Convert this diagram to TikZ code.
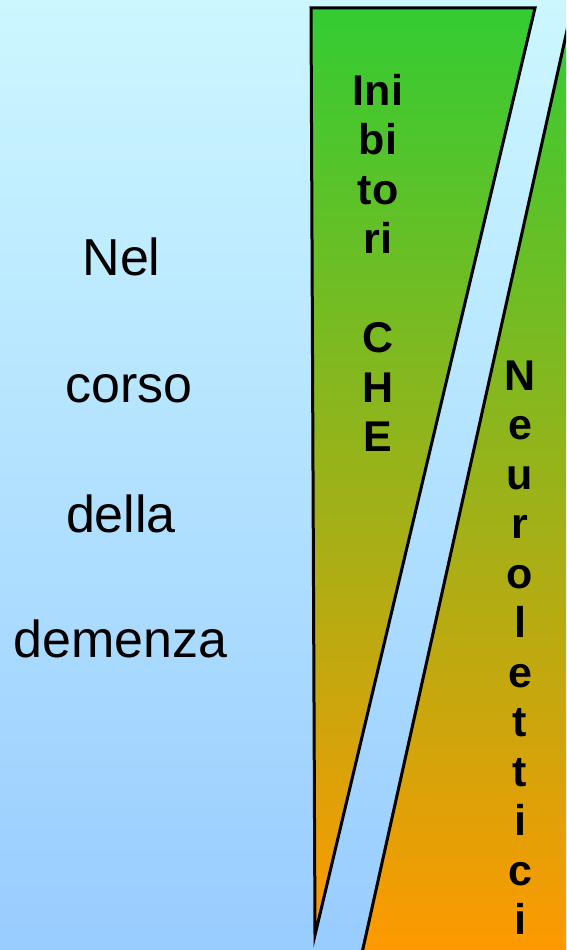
\documentclass[tikz,border=0pt]{standalone}
\usepackage{fontspec}
\setmainfont{Liberation Sans}
\definecolor{skyTop}{RGB}{204,247,255}
\definecolor{skyBottom}{RGB}{153,204,255}
\definecolor{drugGreen}{RGB}{51,204,51}
\definecolor{drugOlive}{RGB}{186,178,38}
\definecolor{drugOrange}{RGB}{255,153,0}

\begin{document}
\begin{tikzpicture}[x=1pt, y=-1pt,
    wedge/.style={draw=black, line width=3pt, top color=drugGreen, middle color=drugOlive, bottom color=drugOrange},
    plain/.style={anchor=base, font=\fontsize{52}{52}\selectfont},
    letter/.style={anchor=base, font=\bfseries\fontsize{43}{43}\selectfont}]
      \useasboundingbox (0,0) rectangle (566,950);
      \shade[top color=skyTop, bottom color=skyBottom] (0,0) rectangle (566,950);
      \clip (0,0) rectangle (566,950);

      % the two wedges
      \path[wedge] (311,8) -- (535,8) -- (315,935) -- cycle;
      \path[wedge] (572,8) -- (362,953) -- (620,953) -- cycle;

      % left column
      \node[plain] (nel) at (121.5,275) {Nel};
      \node[plain] (corso) at (129,402) {corso};
      \node[plain] (della) at (121,532) {della};
      \node[plain] (demenza) at (120.5,657) {demenza};

      % vertical words
      \foreach \t [count=\i] in {Ini,bi,to,ri,{},C,H,E}
        \node[letter] (che\i) at (378,{105+49.5*(\i-1)}) {\t};
      \foreach \t [count=\i] in {N,e,u,r,o,l,e,t,t,i,c,i}
        \node[letter] (neuro\i) at (520,{390+49.5*(\i-1)}) {\t};
    \end{tikzpicture}
\end{document}
